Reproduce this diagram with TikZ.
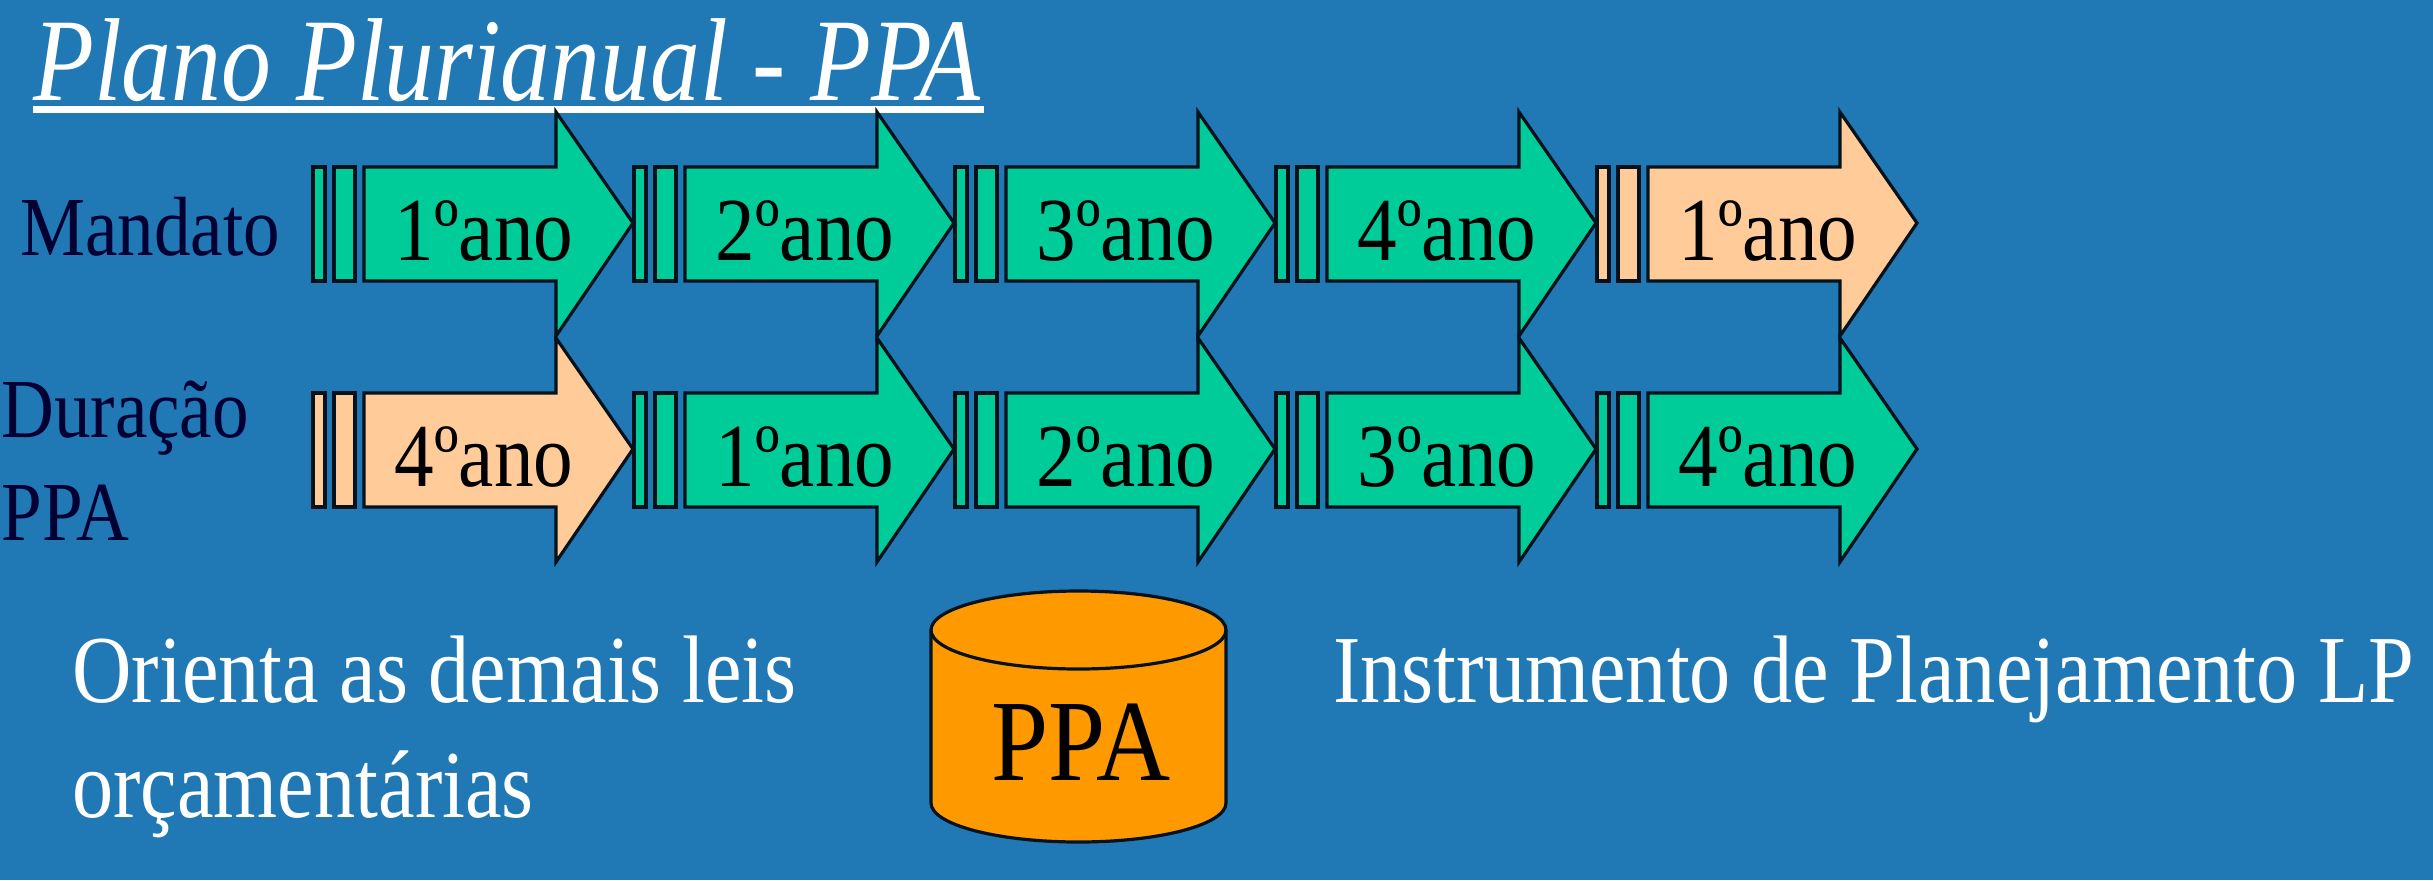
\documentclass[tikz,border=0pt]{standalone}
\usepackage{fontspec}
\setmainfont{Liberation Serif}
\definecolor{bgblue}{HTML}{2079B5}
\definecolor{tealgreen}{HTML}{00CC99}
\definecolor{peach}{HTML}{FFCC99}
\definecolor{orangefill}{HTML}{FF9900}
\definecolor{navytext}{HTML}{000033}
\newcommand{\sq}[2]{\scalebox{#1}[1]{#2}}
\tikzset{
  shapeline/.style={draw=black!85!bgblue,line width=1.6pt,line join=miter},
  rowtext/.style={inner sep=0pt,anchor=base,font=\fontsize{45}{45}\selectfont},
  sidetext/.style={inner sep=0pt,anchor=base west,text=navytext,font=\fontsize{42}{42}\selectfont},
  whitetext/.style={inner sep=0pt,anchor=base west,text=white,font=\fontsize{48}{48}\selectfont},
}
\newcommand{\yearblock}[4]{% x offset, y offset, colour, label
  \begin{scope}[shift={(#1,#2)}]
    \path[shapeline,fill=#3] (313,167) rectangle (325,281);
    \path[shapeline,fill=#3] (334,167) rectangle (355,281);
    \path[shapeline,fill=#3] (364,167) -- (556,167) -- (556,112) -- (633,223) -- (556,336) -- (556,281) -- (364,281) -- cycle;
    \node[rowtext] (lab#1x#2) at (484,260) {\sq{0.88}{#4}};
  \end{scope}
}
\begin{document}
\begin{tikzpicture}[x=0.5pt,y=-0.5pt]
\useasboundingbox (0,0) rectangle (2433,880);
\fill[bgblue] (0,0) rectangle (2433,880);
% title
\node[inner sep=0pt,anchor=base west,text=white,font=\fontsize{59}{59}\selectfont\itshape] (title) at (33,100) {\sq{0.844}{Plano Plurianual - PPA}};
\fill[white] (33,106) rectangle (984,113);
% rows
\yearblock{0}{0}{tealgreen}{1ºano}
\yearblock{321}{0}{tealgreen}{2ºano}
\yearblock{642}{0}{tealgreen}{3ºano}
\yearblock{963}{0}{tealgreen}{4ºano}
\yearblock{1284}{0}{peach}{1ºano}
\yearblock{0}{226}{peach}{4ºano}
\yearblock{321}{226}{tealgreen}{1ºano}
\yearblock{642}{226}{tealgreen}{2ºano}
\yearblock{963}{226}{tealgreen}{3ºano}
\yearblock{1284}{226}{tealgreen}{4ºano}
% side labels
\node[sidetext] (mandato) at (20,255) {\sq{0.87}{Mandato}};
\node[sidetext] (duracao) at (1,437) {\sq{0.87}{Duração}};
\node[sidetext] (ppaside) at (1,540) {\sq{0.87}{PPA}};
% bottom texts
\node[whitetext] (orienta) at (72,702) {\sq{0.857}{Orienta as demais leis}};
\node[whitetext] (orcam) at (72,817) {\sq{0.857}{orçamentárias}};
\node[whitetext] (instr) at (1333,702) {\sq{0.857}{Instrumento de Planejamento LP}};
% cylinder
\path[shapeline,fill=orangefill] (931,630) arc[start angle=180,end angle=360,x radius=147.5,y radius=39] -- (1226,803) arc[start angle=0,end angle=180,x radius=147.5,y radius=39] -- cycle;
\path[shapeline] (931,630) arc[start angle=180,end angle=0,x radius=147.5,y radius=39];
\node[inner sep=0pt,anchor=base,text=black,font=\fontsize{58}{58}\selectfont] (cylppa) at (1081,780) {\sq{0.885}{PPA}};
\end{tikzpicture}
\end{document}
